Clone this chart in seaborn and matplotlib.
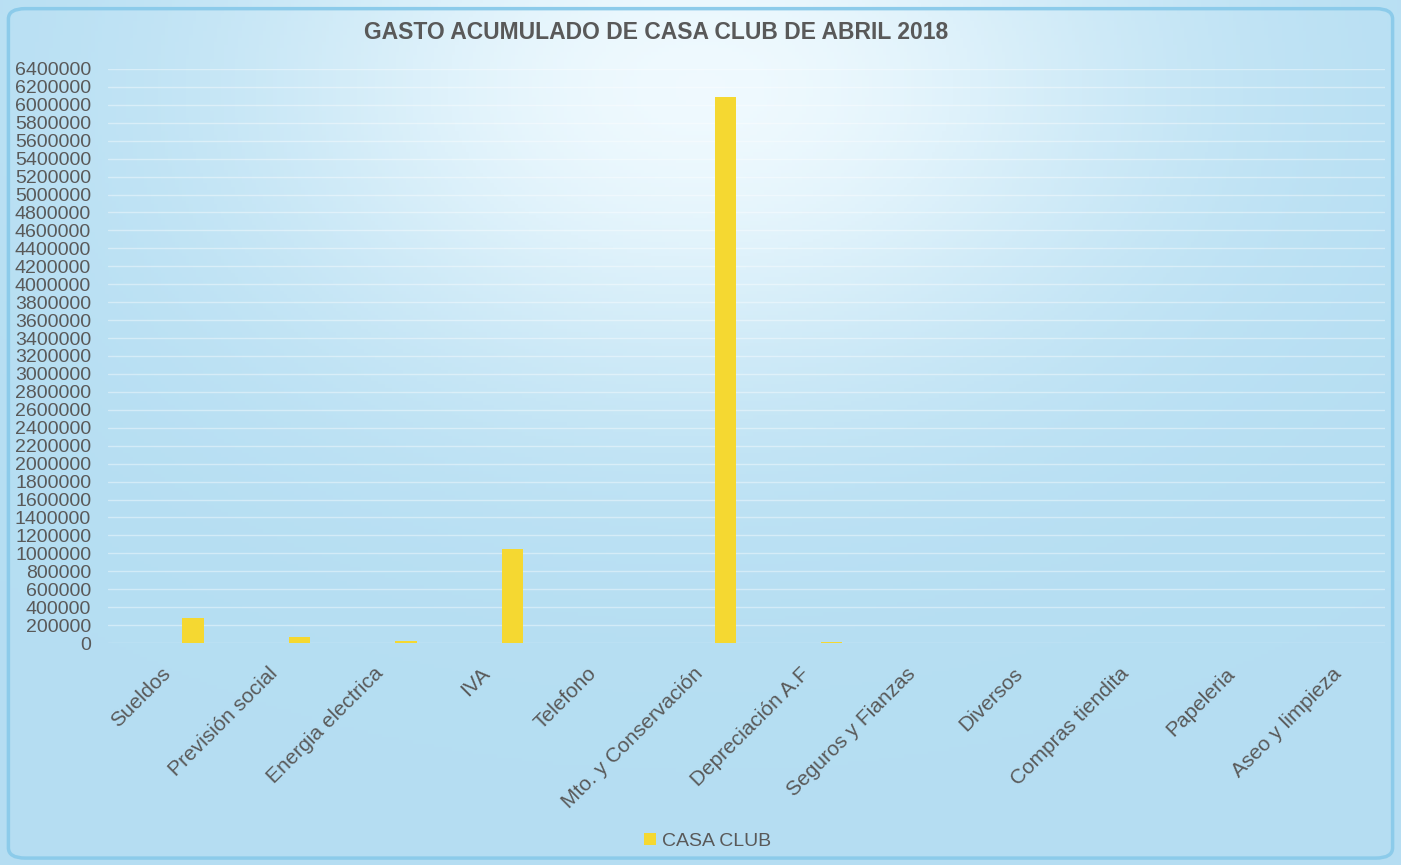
import numpy as np
import pandas as pd
import seaborn as sns
import matplotlib.pyplot as plt
from matplotlib.patches import FancyBboxPatch

sns.set_theme(style="white")
plt.rcParams['font.family'] = ['Liberation Sans', 'DejaVu Sans']

categories = ['Sueldos', 'Previsión social', 'Energia electrica', 'IVA', 'Telefono',
              'Mto. y Conservación', 'Depreciación A.F', 'Seguros y Fianzas', 'Diversos',
              'Compras tiendita', 'Papeleria', 'Aseo y limpieza']
casa_club = [282000, 70000, 28000, 1045000, 0, 6090000, 8000, 0, 0, 0, 0, 0]
# empty series kept in the original workbook; they only reserve their slot
empty_series = ['s1', 's2', 's3']
y_ticks = list(range(0, 6400001, 200000))

text_color = '#595959'
bar_color = '#F5D831'

rows = [{'categoria': c, 'serie': 'CASA CLUB', 'valor': v} for c, v in zip(categories, casa_club)]
for s in empty_series:
    rows += [{'categoria': c, 'serie': s, 'valor': np.nan} for c in categories]
df = pd.DataFrame(rows)

fig = plt.figure(figsize=(14.01, 8.65), dpi=100)

# background gradient of the chart area
bg = fig.add_axes([0, 0, 1, 1], zorder=-10)
gx, gy = np.meshgrid(np.linspace(0, 1, 400), np.linspace(0, 1, 250))
w = np.exp(-((gx - 0.50) ** 2 / 0.10 + (gy - 0.10) ** 2 / 0.12))
w = np.clip(0.95 * w, 0, 1)
dark = np.array([0.71, 0.87, 0.95])
light = np.array([0.95, 0.985, 1.0])
img = dark[None, None, :] * (1 - w[..., None]) + light[None, None, :] * w[..., None]
bg.imshow(img, extent=[0, 1, 0, 1], aspect='auto', origin='upper')
bg.add_patch(FancyBboxPatch((0.006, 0.008), 0.988, 0.982, boxstyle='round,pad=0,rounding_size=0.012',
                            transform=fig.transFigure, fill=False, edgecolor='#8CCBEA', linewidth=2.5))
bg.set_xlim(0, 1)
bg.set_ylim(0, 1)
bg.axis('off')

ax = fig.add_axes([0.077, 0.2566, 0.9116, 0.6637])
ax.set_facecolor('none')
sns.barplot(data=df, x='categoria', y='valor', hue='serie',
            hue_order=empty_series + ['CASA CLUB'],
            palette={'CASA CLUB': bar_color, 's1': bar_color, 's2': bar_color, 's3': bar_color},
            width=0.8, dodge=True, errorbar=None, saturation=1, linewidth=0, ax=ax, zorder=3)

ax.set_ylim(0, 6400000)
ax.set_yticks(y_ticks)
ax.set_yticklabels([str(t) for t in y_ticks])
ax.yaxis.grid(True, color='white', alpha=0.4, linewidth=1.0, zorder=0)
ax.set_axisbelow(True)
sns.despine(ax=ax, left=True, bottom=True)
ax.tick_params(axis='y', length=0, pad=12, labelsize=14, labelcolor=text_color)
ax.tick_params(axis='x', length=0, pad=15, labelsize=15, labelcolor=text_color)
plt.setp(ax.get_xticklabels(), rotation=45, ha='right', rotation_mode='anchor')
ax.set_xlabel('')
ax.set_ylabel('')

ax.legend_.remove()
handles, labels = ax.get_legend_handles_labels()
keep = [(h, l) for h, l in zip(handles, labels) if l == 'CASA CLUB']
fig.legend([k[0] for k in keep], [k[1] for k in keep], loc='center',
           bbox_to_anchor=(0.505, 0.027), frameon=False, fontsize=14,
           handlelength=0.6, handleheight=0.6, handletextpad=0.3, labelcolor=text_color)

fig.text(0.468, 0.962, 'GASTO ACUMULADO DE CASA CLUB DE ABRIL 2018', ha='center', va='center',
         fontsize=16.5, fontweight='bold', color=text_color)

fig.savefig('out.png', dpi=100)
